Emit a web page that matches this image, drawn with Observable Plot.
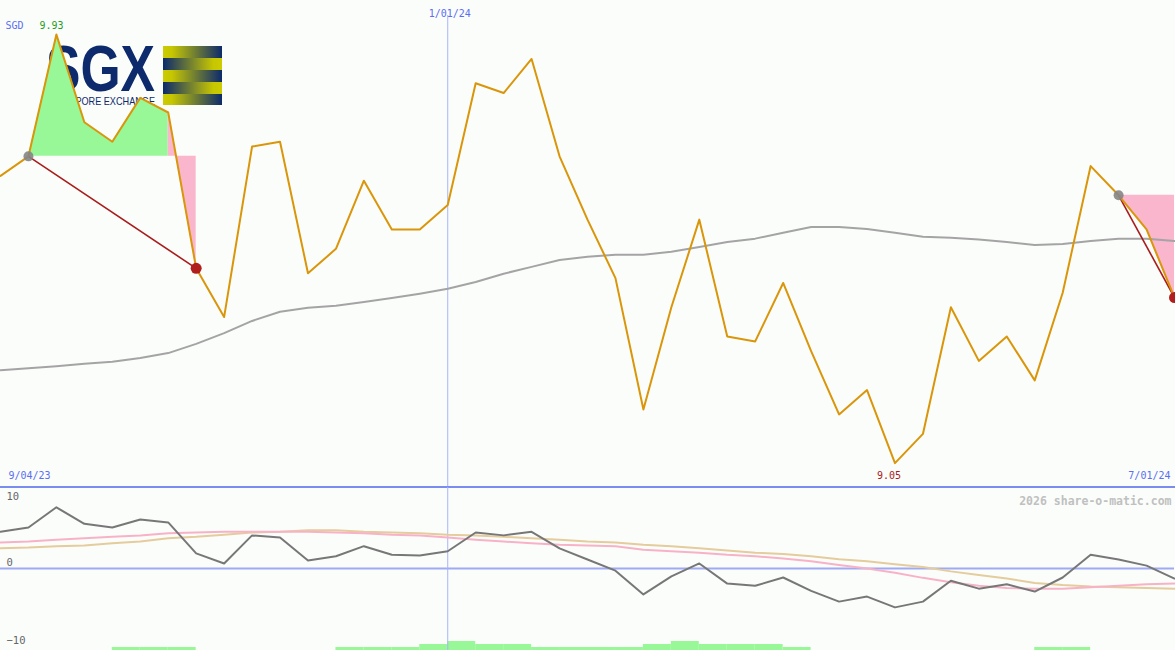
<!DOCTYPE html>
<html><head><meta charset="utf-8">
<script src="https://cdn.jsdelivr.net/npm/d3@7"></script>
<script src="https://cdn.jsdelivr.net/npm/@observablehq/plot@0.6"></script>
<style>
html,body{margin:0;padding:0;background:#fbfdfb;}
#wrap{position:relative;width:1175px;height:650px;overflow:hidden;font-family:"DejaVu Sans Mono",monospace;}
#logo{position:absolute;left:0;top:0;}
#main{position:absolute;left:0;top:0;}
#sep{position:absolute;left:0;top:486px;width:1175px;height:2px;background:#7b8cf0;}
#lower{position:absolute;left:0;top:487px;}
svg{display:block;}
</style></head>
<body><div id="wrap">
<svg id="logo" width="240" height="120">
  <defs>
    <linearGradient id="gYN" x1="0" x2="1" y1="0" y2="0"><stop offset="0" stop-color="#cccc00"/><stop offset="0.15" stop-color="#c6c602"/><stop offset="1" stop-color="#0c2a6c"/></linearGradient>
    <linearGradient id="gNY" x1="0" x2="1" y1="0" y2="0"><stop offset="0" stop-color="#0c2a6c"/><stop offset="0.85" stop-color="#c6c602"/><stop offset="1" stop-color="#cccc00"/></linearGradient>
  </defs>
  <text x="46" y="91" font-family="Liberation Sans, Arial, sans-serif" font-weight="bold" font-size="64" textLength="109" lengthAdjust="spacingAndGlyphs" fill="#0c2a6c">SGX</text>
  <text x="47" y="105" font-family="Liberation Sans, Arial, sans-serif" font-size="10.5" textLength="108" lengthAdjust="spacingAndGlyphs" fill="#0c2a6c">SINGAPORE EXCHANGE</text>
  <rect x="163" y="46" width="59" height="12" fill="url(#gYN)"/>
  <rect x="163" y="58" width="59" height="12" fill="url(#gNY)"/>
  <rect x="163" y="70" width="59" height="12" fill="url(#gYN)"/>
  <rect x="163" y="82" width="59" height="12" fill="url(#gNY)"/>
  <rect x="163" y="94" width="59" height="11" fill="url(#gYN)"/>
</svg>
<div id="main"></div>
<div id="sep"></div>
<div id="lower"></div>
</div>
<script>
// ---- data ----
const dates = ["2023-09-11","2023-09-18","2023-09-25","2023-10-02","2023-10-09","2023-10-16","2023-10-23","2023-10-30",
  "2023-11-06","2023-11-13","2023-11-20","2023-11-27","2023-12-04","2023-12-11","2023-12-18","2023-12-25",
  "2024-01-01","2024-01-08","2024-01-15","2024-01-22","2024-01-29","2024-02-05","2024-02-12","2024-02-19","2024-02-26",
  "2024-03-04","2024-03-11","2024-03-18","2024-03-25","2024-04-01","2024-04-08","2024-04-15","2024-04-22","2024-04-29",
  "2024-05-06","2024-05-13","2024-05-20","2024-05-27","2024-06-03","2024-06-10","2024-06-17","2024-06-24","2024-07-01"];
const price = [9.64,9.68,9.93,9.75,9.71,9.80,9.77,9.45,9.35,9.70,9.71,9.44,9.49,9.63,9.53,9.53,9.58,9.83,9.81,9.88,
  9.68,9.55,9.43,9.16,9.37,9.55,9.31,9.30,9.42,9.28,9.15,9.20,9.05,9.11,9.37,9.26,9.31,9.22,9.40,9.66,9.60,9.53,9.39];
const movingAvg = [9.241,9.245,9.249,9.254,9.258,9.266,9.276,9.295,9.317,9.342,9.361,9.369,9.373,9.381,9.389,9.398,
  9.408,9.422,9.439,9.453,9.467,9.474,9.478,9.478,9.484,9.494,9.504,9.511,9.523,9.535,9.535,9.531,9.523,9.515,9.513,
  9.509,9.504,9.498,9.500,9.506,9.511,9.511,9.506];
const oscillator = [5.1,5.7,8.5,6.2,5.7,6.8,6.4,2.1,0.7,4.6,4.3,1.1,1.7,3.1,1.9,1.8,2.4,5.0,4.6,5.1,2.8,1.25,-0.3,-3.6,
  -1.1,0.7,-2.1,-2.4,-1.25,-3.1,-4.6,-3.9,-5.4,-4.6,-1.7,-2.8,-2.2,-3.2,-1.25,1.9,1.25,0.4,-1.4];
const signalPink = [3.6,3.75,4.0,4.2,4.4,4.6,4.9,5.0,5.1,5.1,5.1,5.1,5.0,4.9,4.7,4.6,4.3,4.0,3.75,3.5,3.3,3.2,3.1,2.6,
  2.4,2.2,1.9,1.7,1.4,1.0,0.5,0.0,-0.6,-1.3,-1.9,-2.4,-2.7,-2.8,-2.8,-2.6,-2.4,-2.2,-2.1];
const signalTan = [2.8,2.9,3.1,3.2,3.5,3.75,4.2,4.4,4.7,5.0,5.1,5.3,5.3,5.1,5.0,4.9,4.7,4.6,4.4,4.2,4.0,3.75,3.6,3.3,
  3.1,2.8,2.5,2.2,2.0,1.7,1.3,1.0,0.6,0.2,-0.4,-0.9,-1.4,-2.0,-2.3,-2.5,-2.6,-2.7,-2.8];
const activity = [0,0,0,0,1,1,1,0,0,0,0,0,1,1,1,2,3,2,2,1,1,1,1,2,3,2,2,2,1,0,0,0,0,0,0,0,0,1,1,0,0,0];
const trades = [{buy:"2023-09-18", sell:"2023-10-30"}, {buy:"2024-06-17", sell:"2024-07-01"}];
const markerDate = "2024-01-01";
const dateLabels = ["9/04/23","1/01/24","7/01/24"];
const currency = "SGD";
const oscTicks = [10, 0, -10];
const watermark = "2026 share-o-matic.com";

// ---- derived ----
const parse = d3.utcParse("%Y-%m-%d");
const D = dates.map(parse);
const rows = D.map((d,i)=>({date:d, price:price[i], ma:movingAvg[i], osc:oscillator[i], pink:signalPink[i], tan:signalTan[i]}));
const mark = parse(markerDate);
const iMax = d3.maxIndex(price), iMin = d3.minIndex(price);

// trade areas, colored by whether each segment ends above/below entry
const segs = [];
const links = [];
const buys = [], sells = [];
trades.forEach((t,k)=>{
  const b = dates.indexOf(t.buy), s = dates.indexOf(t.sell), entry = price[b];
  links.push({x1:D[b], y1:price[b], x2:D[s], y2:price[s]});
  buys.push({date:D[b], price:price[b]});
  sells.push({date:D[s], price:price[s]});
  let id = 0, prevUp = null;
  for (let j=b;j<s;j++){
    const up = price[j+1] >= entry;
    if (up !== prevUp) id++;
    prevUp = up;
    const key = `${k}-${id}`;
    const last = segs[segs.length-1];
    if (!(last && last.seg===key && +last.date===+D[j])) segs.push({seg:key, up, date:D[j], price:price[j], entry});
    segs.push({seg:key, up, date:D[j+1], price:price[j+1], entry});
  }
});

const font = "DejaVu Sans Mono, monospace";
const xDom = [D[0], D[D.length-1]];

const main = Plot.plot({
  width:1175, height:487, marginTop:0, marginBottom:0, marginLeft:0, marginRight:1,
  style:{background:"transparent", overflow:"visible"},
  x:{type:"utc", domain:xDom, axis:null},
  y:{domain:[9,10], axis:null},
  marks:[
    Plot.ruleX([mark], {stroke:"#a6b4f8", strokeWidth:1, insetTop:15}),
    Plot.areaY(segs.filter(d=>d.up), {x:"date", y1:"entry", y2:"price", z:"seg", fill:"#98f898"}),
    Plot.areaY(segs.filter(d=>!d.up), {x:"date", y1:"entry", y2:"price", z:"seg", fill:"#f9b6cc"}),
    Plot.line(rows, {x:"date", y:"ma", stroke:"#a4a4a4", strokeWidth:2}),
    Plot.link(links, {x1:"x1", y1:"y1", x2:"x2", y2:"y2", stroke:"#a81c1c", strokeWidth:1.6}),
    Plot.line(rows, {x:"date", y:"price", stroke:"#da960a", strokeWidth:2}),
    Plot.dot(buys, {x:"date", y:"price", r:5, fill:"#858585", fillOpacity:0.9}),
    Plot.dot(sells, {x:"date", y:"price", r:5.5, fill:"#b01e1e"}),
    Plot.text([currency], {frameAnchor:"top-left", dx:5, dy:21, textAnchor:"start", fill:"#5a6ef2", fontSize:10, fontFamily:font}),
    Plot.text([price[iMax].toFixed(2)], {frameAnchor:"top-left", dx:39, dy:21, textAnchor:"start", fill:"#1f9e1f", fontSize:10, fontFamily:font}),
    Plot.text([{date:mark, label:dateLabels[1]}], {x:"date", text:"label", frameAnchor:"top", dy:9, dx:2, fill:"#5a6ef2", fontSize:10, fontFamily:font}),
    Plot.text([dateLabels[0]], {frameAnchor:"bottom-left", dx:8, dy:-9, textAnchor:"start", fill:"#5a6ef2", fontSize:10, fontFamily:font}),
    Plot.text([dateLabels[2]], {frameAnchor:"bottom-right", dx:-4, dy:-9, textAnchor:"end", fill:"#5a6ef2", fontSize:10, fontFamily:font}),
    Plot.text([{date:D[iMin], label:price[iMin].toFixed(2)}], {x:"date", text:"label", frameAnchor:"bottom", dy:-9, dx:-6, fill:"#a81c1c", fontSize:10, fontFamily:font})
  ]
});
document.getElementById("main").append(main);

// lower panel: zero at 81px, 7.2px per unit
const pxPerUnit = 7.2, zeroPx = 81, lowH = 163;
const yTop = zeroPx/pxPerUnit, yBot = -(lowH-zeroPx)/pxPerUnit;
const barUnit = 3/pxPerUnit;
const bars = activity.map((v,i)=>({x1:D[i], x2:D[i+1], v})).filter(d=>d.v>0);

const lower = Plot.plot({
  width:1175, height:lowH, marginTop:0, marginBottom:0, marginLeft:0, marginRight:1,
  style:{background:"transparent", overflow:"visible"},
  x:{type:"utc", domain:xDom, axis:null},
  y:{domain:[yBot, yTop], axis:null},
  marks:[
    Plot.rect(bars, {x1:"x1", x2:"x2", y1:yBot, y2:d=>yBot + d.v*barUnit, fill:"#98f898"}),
    Plot.ruleY([0], {stroke:"#9eaaf4", strokeWidth:2}),
    Plot.ruleX([mark], {stroke:"#a6b4f8", strokeWidth:1}),
    Plot.line(rows, {x:"date", y:"tan", stroke:"#e4cc9c", strokeWidth:2}),
    Plot.line(rows, {x:"date", y:"pink", stroke:"#f8b2c8", strokeWidth:2}),
    Plot.line(rows, {x:"date", y:"osc", stroke:"#777777", strokeWidth:2}),
    Plot.text(oscTicks.filter(t=>t!==0), {x:xDom[0], y:d=>d, text:d=>String(d).replace("-","\u2212"), textAnchor:"start", dx:6, fill:"#666", fontSize:10.5, fontFamily:font}),
    Plot.text(oscTicks.filter(t=>t===0), {x:xDom[0], y:d=>d, text:d=>String(d), textAnchor:"start", dx:6, dy:-6, fill:"#666", fontSize:10.5, fontFamily:font}),
    Plot.text([watermark], {frameAnchor:"top-right", dx:-3, dy:9, textAnchor:"end", fill:"#c0c0c0", fontWeight:"bold", fontSize:11.5, fontFamily:font})
  ]
});
document.getElementById("lower").append(lower);
</script>
</body></html>
